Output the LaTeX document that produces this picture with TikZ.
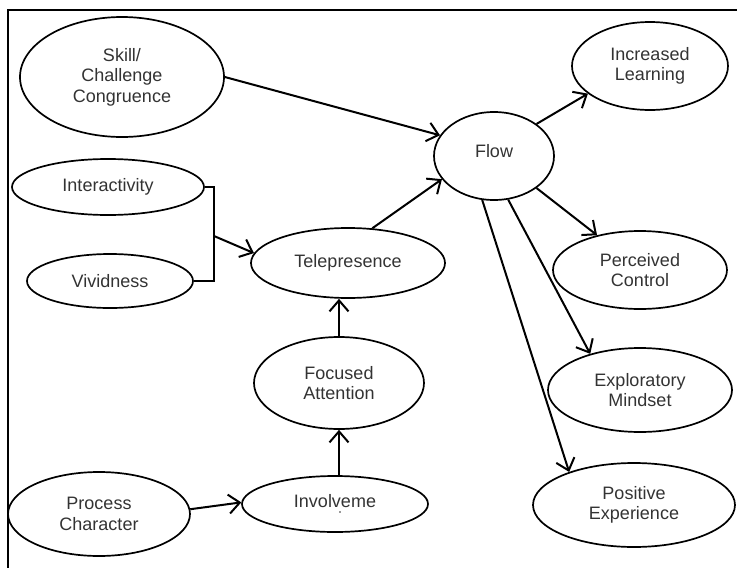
\documentclass[tikz,border=0pt]{standalone}
\usepackage{fontspec}
\setmainfont{Liberation Sans}
\usetikzlibrary{arrows.meta,shapes.geometric}
\definecolor{txt}{HTML}{333333}
\tikzset{
  ell/.style={draw=black, line width=1.7pt, ellipse, inner sep=0pt, align=center,
    text=txt, font=\fontsize{18}{20.5}\selectfont},
  link/.style={draw=black, line width=2pt, -{Straight Barb[length=11pt,width=19pt,line width=2pt]}},
  plain/.style={draw=black, line width=2pt}
}
\begin{document}
\begin{tikzpicture}[x=1pt,y=-1pt]
\useasboundingbox (0,0) rectangle (737,568);
% frame
\draw[line width=2pt] (8,568) -- (8,10) -- (737,10);

% concepts
\node[ell, minimum width=204pt, minimum height=120pt] (skill) at (122,77) {Skill/\\Challenge\\Congruence};
\node[ell, minimum width=192pt, minimum height=56pt] (inter) at (108,187) {Interactivity};
\node[ell, minimum width=166pt, minimum height=54pt] (vivid) at (110,281) {Vividness};
\node[ell, minimum width=194pt, minimum height=70pt] (tele) at (348,263) {\raisebox{3pt}{Telepresence}};
\node[ell, minimum width=170pt, minimum height=92pt] (focus) at (339,383) {Focused\\Attention};
\node[ell, minimum width=186pt, minimum height=56pt] (invol) at (335,504) {\raisebox{7pt}{Involveme}};
\node[ell, minimum width=182pt, minimum height=84pt] (proc) at (99,514) {Process\\Character};
\node[ell, minimum width=120pt, minimum height=88pt] (flow) at (494,156) {\raisebox{10pt}{Flow}};
\node[ell, minimum width=156pt, minimum height=88pt] (learn) at (650,66) {Increased\\Learning};
\node[ell, minimum width=174pt, minimum height=78pt] (ctrl) at (640,270) {Perceived\\Control};
\node[ell, minimum width=184pt, minimum height=84pt] (mind) at (640,390) {Exploratory\\Mindset};
\node[ell, minimum width=202pt, minimum height=84pt] (pos) at (634,505) {Positive\\Experience};
\fill[txt] (340,512) circle (0.8pt);

% bracket joining the two media features
\coordinate (br) at (214,236);
\draw[plain] (inter.east) -| (br) |- (vivid.east);

% causal links
\draw[link] (skill.east) -- (flow.159);
\draw[link] (br) -- (tele.174);
\draw[link] (tele.55) -- (flow.204);
\draw[link] (proc.3) -- (invol.179);
\draw[link] (invol.north -| focus.south) -- (focus.south);
\draw[link] (focus.north) -- (focus.north |- tele.south);
\draw[link] (flow.37) -- (learn.204);
\draw[link] (flow.323) -- (ctrl.141);
\draw[link] (flow.288) -- (mind.144);
\draw[link] (flow.255) -- (pos.153);
\end{tikzpicture}
\end{document}
